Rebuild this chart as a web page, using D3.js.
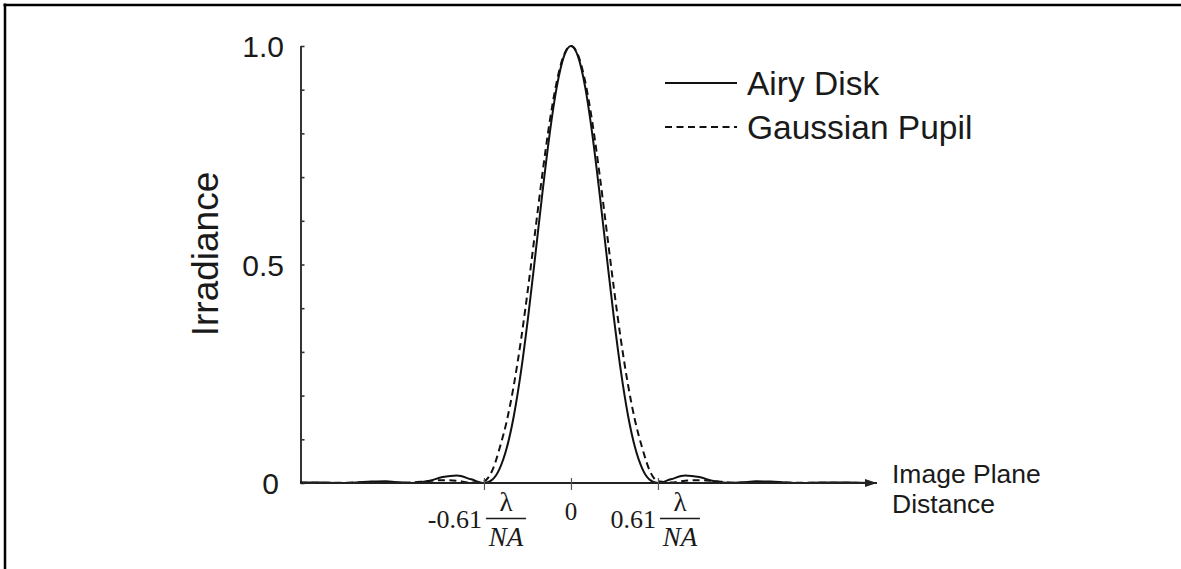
<!DOCTYPE html>
<html>
<head>
<meta charset="utf-8">
<script src="https://cdn.jsdelivr.net/npm/d3@7"></script>
<style>
  html, body { margin: 0; padding: 0; background: #fff; }
  svg { display: block; }
</style>
</head>
<body>
<svg id="chart" width="1181" height="569"></svg>
<script>
// ---- Data (x in units of lambda/NA, irradiance normalised to 1) ----
const xPositions = [-1.9, -1.75, -1.619, -1.5, -1.4, -1.3, -1.2, -1.117, -1.0, -0.9, -0.8, -0.7, -0.61,
  -0.55, -0.5, -0.45, -0.4, -0.35, -0.3, -0.25, -0.2, -0.15, -0.1, -0.05, 0,
  0.05, 0.1, 0.15, 0.2, 0.25, 0.3, 0.35, 0.4, 0.45, 0.5, 0.55,
  0.61, 0.7, 0.8, 0.9, 1.0, 1.117, 1.2, 1.3, 1.4, 1.5, 1.619, 1.75, 1.9, 2.0, 2.12];

const airyDisk = [0.00142, 0.00103, 0, 0.00138, 0.00355, 0.00378, 0.00144, 0, 0.00455, 0.01352, 0.01708, 0.00846, 0,
  0.0081, 0.0328, 0.0804, 0.1545, 0.2558, 0.3806, 0.5209, 0.6645, 0.7974, 0.9053, 0.9756, 1,
  0.9756, 0.9053, 0.7974, 0.6645, 0.5209, 0.3806, 0.2558, 0.1545, 0.0804, 0.0328, 0.0081,
  0, 0.00846, 0.01708, 0.01352, 0.00455, 0, 0.00144, 0.00378, 0.00355, 0.00138, 0, 0.00103, 0.00142, 0.00061, 0];

const gaussianPupil = [0.0005, 0.0003, 0.0003, 0.0012, 0.0015, 0.0008, 0.0003, 0.0012, 0.0045, 0.0065, 0.005, 0.001, 0.004,
  0.03, 0.08, 0.142, 0.225, 0.328, 0.448, 0.578, 0.708, 0.825, 0.918, 0.979, 1,
  0.979, 0.918, 0.825, 0.708, 0.578, 0.448, 0.328, 0.225, 0.142, 0.08, 0.03,
  0.004, 0.001, 0.005, 0.0065, 0.0045, 0.0012, 0.0003, 0.0008, 0.0015, 0.0012, 0.0003, 0.0003, 0.0005, 0.0003, 0.0001];

const seriesNames = ["Airy Disk", "Gaussian Pupil"];
const yTickValues = [0, 0.1, 0.2, 0.3, 0.4, 0.5, 0.6, 0.7, 0.8, 0.9, 1.0];
const yLabelValues = [0, 0.5, 1.0];
const yLabelTexts = ["0", "0.5", "1.0"];
const xTickValues = [-0.61, 0, 0.61];
const xTickNumbers = ["-0.61", "0", "0.61"];
const yAxisTitle = "Irradiance";
const xAxisTitle = ["Image Plane", "Distance"];

// ---- Layout ----
const svg = d3.select("#chart");
const sans = "'Liberation Sans', Arial, Helvetica, sans-serif";
const serif = "'Liberation Serif', 'Times New Roman', Times, serif";

const x = d3.scaleLinear().domain([-1.893, 2.146]).range([301, 877]);
const y = d3.scaleLinear().domain([0, 1]).range([483, 46]);

// frame (top and left edges of the surrounding box)
svg.append("line").attr("x1", 3.5).attr("x2", 1181).attr("y1", 5).attr("y2", 5)
  .attr("stroke", "#000").attr("stroke-width", 2.5);
svg.append("line").attr("x1", 5).attr("x2", 5).attr("y1", 3.5).attr("y2", 569)
  .attr("stroke", "#000").attr("stroke-width", 2.5);

// arrow marker
svg.append("defs").append("marker")
  .attr("id", "arrow").attr("viewBox", "0 0 12 8").attr("refX", 12).attr("refY", 4)
  .attr("markerWidth", 12).attr("markerHeight", 8).attr("markerUnits", "userSpaceOnUse")
  .attr("orient", "auto")
  .append("path").attr("d", "M0,0 L12,4 L0,8 Z").attr("fill", "#222");

// y axis with inward ticks
const yAxis = d3.axisRight(y).tickValues(yTickValues).tickSize(3.5).tickFormat("");
const gy = svg.append("g").attr("transform", `translate(${x.range()[0]},0)`).call(yAxis);
gy.select(".domain").attr("d", `M0,${y(0)}V${y(1)}`).attr("stroke", "#333").attr("stroke-width", 2);
gy.selectAll(".tick line").attr("stroke", "#333").attr("stroke-width", 1.6);

// y labels
svg.append("g").selectAll("text").data(yLabelValues).join("text")
  .attr("x", (d) => d === 0 ? 279 : 284)
  .attr("y", (d) => y(d) + 11)
  .attr("text-anchor", "end")
  .attr("font-family", sans).attr("font-size", 30).attr("fill", "#1a1a1a")
  .text((d, i) => yLabelTexts[i]);

// y title
svg.append("text")
  .attr("transform", `translate(218,${254}) rotate(-90)`)
  .attr("text-anchor", "middle")
  .attr("font-family", sans).attr("font-size", 37).attr("fill", "#1a1a1a")
  .text(yAxisTitle);

// curves
const line = (vals) => d3.line()
  .x((d, i) => x(xPositions[i]))
  .y((d) => y(d))
  .curve(d3.curveMonotoneX)(vals);

svg.append("path").attr("d", line(gaussianPupil))
  .attr("fill", "none").attr("stroke", "#111").attr("stroke-width", 2)
  .attr("stroke-dasharray", "7,4.5");
svg.append("path").attr("d", line(airyDisk))
  .attr("fill", "none").attr("stroke", "#111").attr("stroke-width", 2);

// x axis with arrow
const xAxis = d3.axisBottom(x).tickValues(xTickValues).tickSize(0).tickFormat("");
const gx = svg.append("g").attr("transform", `translate(0,${y(0)})`).call(xAxis);
gx.select(".domain").attr("d", `M${x.range()[0]},0H${x.range()[1]}`)
  .attr("stroke", "#222").attr("stroke-width", 2.2).attr("marker-end", "url(#arrow)");
gx.selectAll(".tick line").attr("y1", -5).attr("y2", 7).attr("stroke", "#555").attr("stroke-width", 1.2);

// x tick labels
xTickValues.forEach((v, i) => {
  const px = x(v);
  if (v === 0) {
    svg.append("text").attr("x", px).attr("y", 520).attr("text-anchor", "middle")
      .attr("font-family", serif).attr("font-size", 25).attr("fill", "#1a1a1a").text(xTickNumbers[i]);
    return;
  }
  const g = svg.append("g").attr("transform", `translate(${px},0)`);
  g.append("text").attr("x", -2).attr("y", 528).attr("text-anchor", "end")
    .attr("font-family", serif).attr("font-size", 26).attr("fill", "#1a1a1a").text(xTickNumbers[i]);
  g.append("line").attr("x1", 2).attr("x2", 42).attr("y1", 518.5).attr("y2", 518.5)
    .attr("stroke", "#1a1a1a").attr("stroke-width", 1.6);
  g.append("text").attr("x", 22).attr("y", 511).attr("text-anchor", "middle")
    .attr("font-family", serif).attr("font-size", 27).attr("fill", "#1a1a1a").text("λ");
  g.append("text").attr("x", 22).attr("y", 546).attr("text-anchor", "middle")
    .attr("font-family", serif).attr("font-style", "italic").attr("font-size", 27)
    .attr("fill", "#1a1a1a").text("NA");
});

// x title
svg.append("g").selectAll("text").data(xAxisTitle).join("text")
  .attr("x", 892).attr("y", (d, i) => 483 + i * 30)
  .attr("font-family", sans).attr("font-size", 26.5).attr("fill", "#1a1a1a")
  .text((d) => d);

// legend
const legend = svg.append("g");
seriesNames.forEach((name, i) => {
  const ly = 83 + i * 44;
  legend.append("line").attr("x1", 665).attr("x2", 737).attr("y1", ly).attr("y2", ly)
    .attr("stroke", "#111").attr("stroke-width", 2)
    .attr("stroke-dasharray", i === 1 ? "7,4.5" : null);
  legend.append("text").attr("x", 747).attr("y", ly + 12)
    .attr("font-family", sans).attr("font-size", 33.5).attr("fill", "#1a1a1a").text(name);
});
</script>
</body>
</html>
